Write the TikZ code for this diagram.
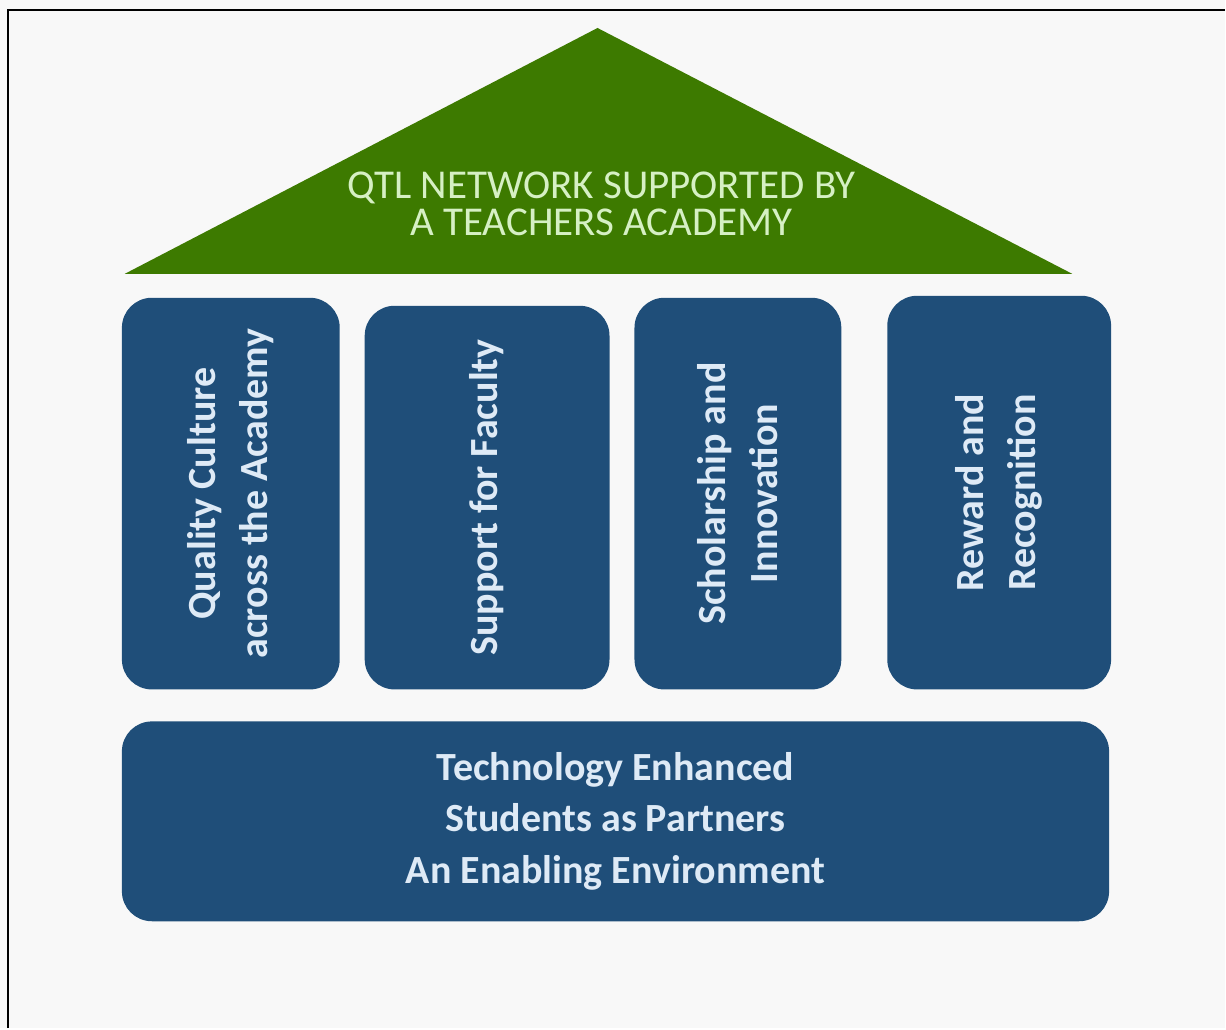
\documentclass[tikz,border=0pt]{standalone}
\usepackage{fontspec}
\setmainfont{Carlito}
\usetikzlibrary{positioning}

\definecolor{roofgreen}{RGB}{61,122,0}
\definecolor{pillarblue}{RGB}{31,78,121}
\definecolor{paper}{RGB}{248,248,248}
\definecolor{lighttext}{RGB}{222,234,246}
\definecolor{rooftext}{RGB}{214,240,196}

\begin{document}
\begin{tikzpicture}
      [x=1pt,y=-1pt,
      pillar/.style={shape=rectangle,fill=pillarblue,rounded corners=30pt,rotate=90,
        inner sep=0pt,align=center,text=lighttext,
        font=\fontsize{40}{52}\selectfont\bfseries},
      base/.style={shape=rectangle,fill=pillarblue,rounded corners=30pt,
        inner sep=0pt,align=center,text=lighttext,
        font=\fontsize{40}{52}\selectfont\bfseries},
      roof/.style={align=center,text=rooftext,inner sep=0pt,
        font=\fontsize{41}{37}\selectfont}]
% page and frame
\fill[paper] (0,0) rectangle (1226,1029);
\draw[line width=2pt] (8,1029) -- (8,10) -- (1226,10);
% roof
\coordinate (apex) at (598,28);
\coordinate (eaveL) at (125,274);
\coordinate (eaveR) at (1073,274);
\fill[roofgreen] (eaveL) -- (apex) -- (eaveR) -- cycle;
\node[roof] (title) at (602,204) {QTL NETWORK SUPPORTED BY\\A TEACHERS ACADEMY};
% pillars
\node[pillar,minimum width=392pt,minimum height=218pt] (quality) at (231,494)
    {Quality Culture\\across the Academy};
\node[pillar,minimum width=384pt,minimum height=245pt] (support) at (487.5,498)
    {Support for Faculty};
\node[pillar,minimum width=392pt,minimum height=207pt] (scholar) at (738.5,494)
    {Scholarship and\\Innovation};
\node[pillar,minimum width=394pt,minimum height=224pt] (reward) at (1000,493)
    {Reward and\\Recognition};
% foundation
\node[base,minimum width=988pt,minimum height=200pt] (found) at (616,822)
    {Technology Enhanced\\Students as Partners\\An Enabling Environment};
\end{tikzpicture}
\end{document}
